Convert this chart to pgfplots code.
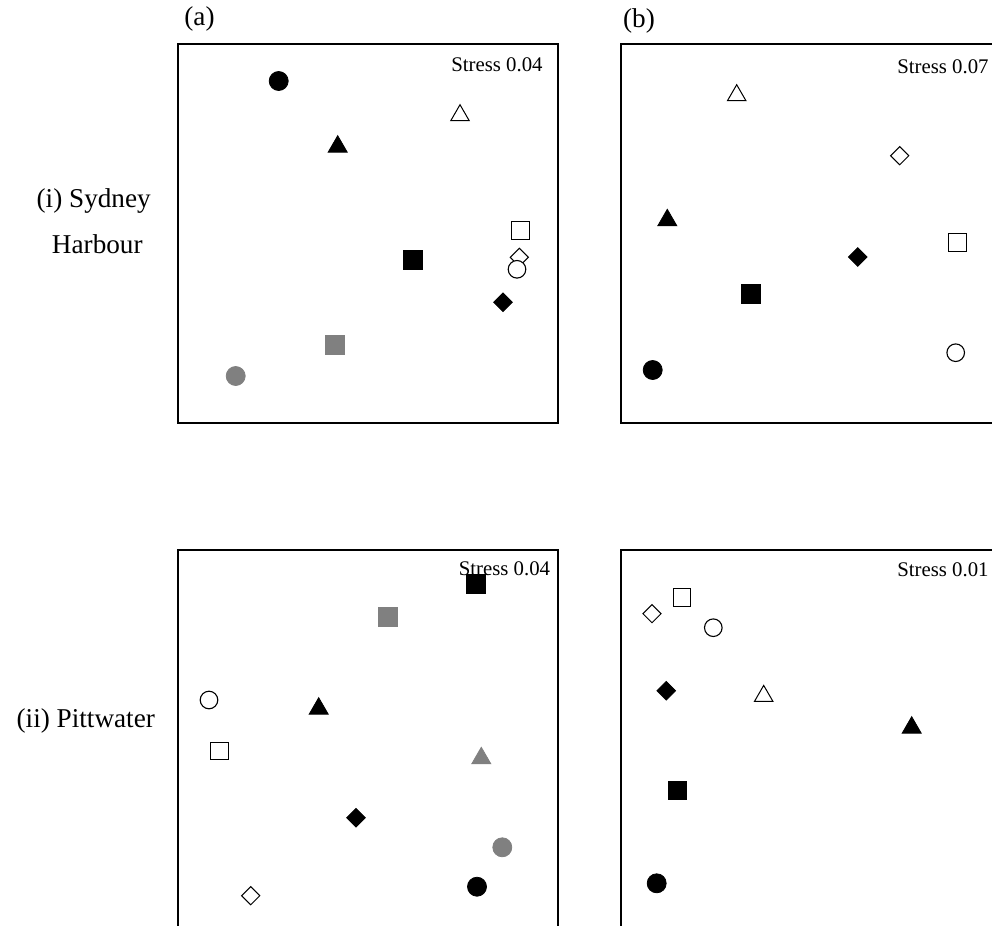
\documentclass[border=0pt]{standalone}
\usepackage{pgfplots}
\pgfplotsset{compat=1.18}
\usepackage{fontspec}
\setmainfont{Liberation Serif}
\definecolor{mgrey}{RGB}{128,128,128}
\pgfplotsset{
  panel/.style={width=190pt,height=189.5pt,scale only axis,anchor=north west,
    xtick=\empty,ytick=\empty,y dir=reverse,axis line style={line width=0.65pt},clip=false},
  fc/.style={only marks,mark=*,mark size=4.75pt,mark options={fill=black,draw=black,line width=0.4pt}},
  gc/.style={only marks,mark=*,mark size=4.75pt,mark options={fill=mgrey,draw=mgrey,line width=0.4pt}},
  oc/.style={only marks,mark=*,mark size=4.4pt,mark options={fill=white,draw=black,line width=0.55pt}},
  fs/.style={only marks,mark=square*,mark size=4.7pt,mark options={fill=black,draw=black,line width=0.4pt}},
  gs/.style={only marks,mark=square*,mark size=4.7pt,mark options={fill=mgrey,draw=mgrey,line width=0.4pt}},
  os/.style={only marks,mark=square*,mark size=4.4pt,mark options={fill=white,draw=black,line width=0.55pt}},
  ft/.style={only marks,mark=triangle*,mark size=5.5pt,mark options={fill=black,draw=black,line width=0.4pt}},
  gt/.style={only marks,mark=triangle*,mark size=5.5pt,mark options={fill=mgrey,draw=mgrey,line width=0.4pt}},
  ot/.style={only marks,mark=triangle*,mark size=5.3pt,mark options={fill=white,draw=black,line width=0.5pt}},
  fd/.style={only marks,mark=square*,mark size=3.3pt,mark options={rotate=45,fill=black,draw=black,line width=0.4pt}},
  od/.style={only marks,mark=square*,mark size=3.2pt,mark options={rotate=45,fill=white,draw=black,line width=0.5pt}},
}
\newcommand{\stressfont}{\fontsize{10.4}{12}\selectfont}
\newcommand{\labfont}{\fontsize{13.6}{16}\selectfont}
\begin{document}
\begin{tikzpicture}[x=0.5pt,y=-0.5pt]
% ---------- (a)(i) Sydney Harbour ----------
\begin{axis}[panel,at={(89pt,-22pt)},xmin=178,xmax=558,ymin=44,ymax=423]
  \addplot[fc] coordinates {(278.7,81)};
  \addplot[ot] coordinates {(460,115.3)};
  \addplot[ft] coordinates {(337.7,146.7)};
  \addplot[os] coordinates {(520.3,230.3)};
  \addplot[fs] coordinates {(413,259.7)};
  \addplot[od] coordinates {(519.3,257.3)};
  \addplot[oc] coordinates {(517,269.3)};
  \addplot[fd] coordinates {(503,302.3)};
  \addplot[gs] coordinates {(334.7,345)};
  \addplot[gc] coordinates {(235.7,376)};
  \node[anchor=east,inner sep=0pt,font=\stressfont] at (axis cs:543,65) {Stress 0.04};
\end{axis}
% ---------- (b)(i) Sydney Harbour ----------
\begin{axis}[panel,at={(310.5pt,-22pt)},xmin=621,xmax=1001,ymin=44,ymax=423]
  \addplot[ot] coordinates {(736.7,95.3)};
  \addplot[od] coordinates {(899.7,155.7)};
  \addplot[ft] coordinates {(667.3,220.3)};
  \addplot[os] coordinates {(957.7,242.3)};
  \addplot[fd] coordinates {(857.7,257)};
  \addplot[fs] coordinates {(750.7,293.7)};
  \addplot[oc] coordinates {(955.7,352.7)};
  \addplot[fc] coordinates {(652.7,370)};
  \node[anchor=east,inner sep=0pt,font=\stressfont] at (axis cs:989,66.5) {Stress 0.07};
\end{axis}
% ---------- (a)(ii) Pittwater ----------
\begin{axis}[panel,at={(89pt,-275pt)},xmin=178,xmax=558,ymin=550,ymax=929]
  \addplot[gs] coordinates {(388,617)};
  \addplot[oc] coordinates {(209,700)};
  \addplot[ft] coordinates {(318.7,708.7)};
  \addplot[os] coordinates {(219.7,751)};
  \addplot[gt] coordinates {(481.3,758.3)};
  \addplot[fd] coordinates {(356,817.7)};
  \addplot[gc] coordinates {(502.3,847.3)};
  \addplot[fc] coordinates {(477,886.7)};
  \addplot[od] coordinates {(250.7,895.7)};
  \addplot[fs] coordinates {(476,584)};
  \node[anchor=east,inner sep=0pt,font=\stressfont] at (axis cs:550.5,569) {Stress 0.04};
\end{axis}
% ---------- (b)(ii) Pittwater ----------
\begin{axis}[panel,at={(310.5pt,-275pt)},xmin=621,xmax=1001,ymin=550,ymax=929]
  \addplot[os] coordinates {(682,597.3)};
  \addplot[od] coordinates {(652,613.7)};
  \addplot[oc] coordinates {(713.3,627.7)};
  \addplot[fd] coordinates {(666.3,690.7)};
  \addplot[ot] coordinates {(763.7,696)};
  \addplot[ft] coordinates {(911.7,727.7)};
  \addplot[fs] coordinates {(677.3,790.3)};
  \addplot[fc] coordinates {(656.7,883.3)};
  \node[anchor=east,inner sep=0pt,font=\stressfont] at (axis cs:989,569.3) {Stress 0.01};
\end{axis}
% ---------- labels ----------
\node[inner sep=0pt,font=\labfont] at (199.5,19) {(a)};
\node[inner sep=0pt,font=\labfont] at (639,21) {(b)};
\node[anchor=base,inner sep=0pt,font=\labfont] at (93.7,207.7) {(i) Sydney};
\node[anchor=base,inner sep=0pt,font=\labfont] at (97.3,253.3) {Harbour};
\node[anchor=base,inner sep=0pt,font=\labfont] at (85.8,727.7) {(ii) Pittwater};
\pgfresetboundingbox
\path[use as bounding box] (0,0) rectangle (992,926);
\end{tikzpicture}
\end{document}
